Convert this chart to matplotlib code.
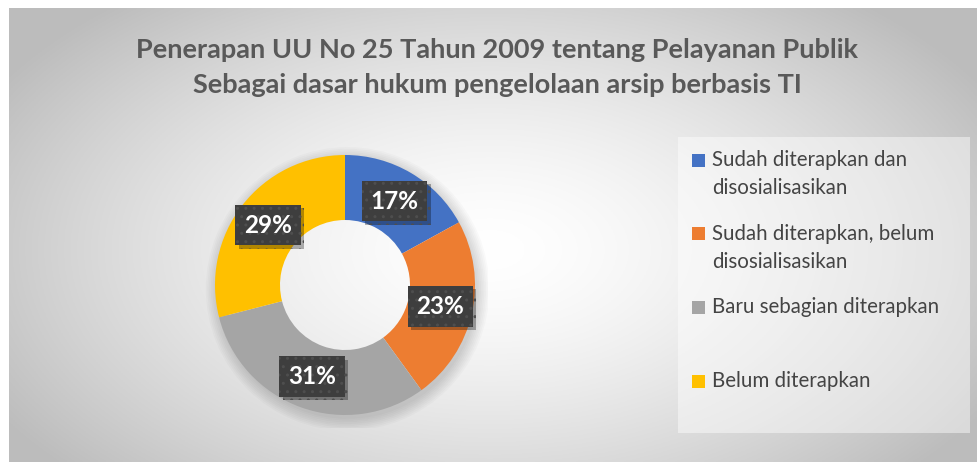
import numpy as np
import matplotlib.pyplot as plt
import matplotlib.patheffects as pe
from matplotlib.patches import Rectangle, Wedge

plt.rcParams['font.family'] = ['Lato', 'DejaVu Sans']

title_lines = [
    "Penerapan UU No 25 Tahun 2009 tentang Pelayanan Publik",
    "Sebagai dasar hukum pengelolaan arsip berbasis TI",
]
categories = [
    "Sudah diterapkan dan\ndisosialisasikan",
    "Sudah diterapkan, belum\ndisosialisasikan",
    "Baru sebagian diterapkan",
    "Belum diterapkan",
]
values = [17, 23, 31, 29]
colors = ["#4472C4", "#ED7D31", "#A5A5A5", "#FFC000"]

W, H = 977, 462
fig = plt.figure(figsize=(W / 100, H / 100), dpi=100)
fig.patch.set_facecolor("white")


def fx(px):
    return px / W


def fy(py):
    # pixel measured from top -> figure fraction
    return 1 - py / H


# chart panel with a soft radial gradient
left, top = 9, 8
bg = fig.add_axes([fx(left), 0, 1 - fx(left), 1 - top / H])
bg.set_axis_off()
gx = np.linspace(left, W, 500)
gy = np.linspace(top, H, 250)
X, Y = np.meshgrid(gx, gy)
d = np.sqrt(((X - 490) / 540) ** 2 + ((Y - 250) / 310) ** 2)
v = np.clip(1 - 0.24 * d ** 1.5, 0.74, 1)
bg.imshow(np.dstack([v, v, v]), extent=[0, 1, 0, 1], aspect="auto", origin="upper")
bg.set_xlim(0, 1)
bg.set_ylim(0, 1)

# title
fig.text(fx(497), fy(50), title_lines[0], ha="center", va="center",
         fontsize=19.5, fontweight="bold", color="#595959")
fig.text(fx(497), fy(85), title_lines[1], ha="center", va="center",
         fontsize=19.5, fontweight="bold", color="#595959")

# legend panel
fig.patches.append(Rectangle((fx(678), fy(433)), fx(970 - 678), (433 - 137) / H,
                             transform=fig.transFigure, facecolor="white",
                             alpha=0.45, edgecolor="none", zorder=1))
for i, (lab, col) in enumerate(zip(categories, colors)):
    y = 160 + 73.7 * i
    fig.patches.append(Rectangle((fx(692), fy(y + 6.5)), fx(13), 13 / H,
                                 transform=fig.transFigure, facecolor=col,
                                 edgecolor="none", zorder=2))
    for j, line in enumerate(lab.split("\n")):
        fig.text(fx(712), fy(y + 28 * j), line, ha="left", va="center",
                 fontsize=14.8, color="#444444", zorder=3)

# donut
cx, cy, R = 345, 285, 130
ax = fig.add_axes([fx(cx - R), (H - cy - R) / H, fx(2 * R), 2 * R / H])
ax.set_axis_off()

# soft shadow just outside the ring
for k in range(8):
    ax.add_patch(Wedge((0.02, -0.03), 1.0 + 0.013 * k, 0, 360,
                       width=0.06 + 0.013 * k, facecolor="black",
                       alpha=0.02, zorder=0, lw=0))

wedges, _, autotexts = ax.pie(
    values, colors=colors, startangle=90, counterclock=False,
    wedgeprops=dict(width=0.5, linewidth=0), radius=1.0,
    autopct="%1.0f%%", pctdistance=0.75,
    textprops=dict(color="white", fontsize=17.5, fontweight="bold"),
)
for t in autotexts:
    t.set_bbox(dict(boxstyle="square,pad=0.36", facecolor="#3e3e3e",
                    edgecolor="#4e4e4e", linewidth=0, hatch=".."))
    t.get_bbox_patch().set_path_effects([
        pe.SimplePatchShadow(offset=(2.5, -2.5), shadow_rgbFace="black", alpha=0.3),
        pe.Normal(),
    ])
ax.set_xlim(-1.1, 1.1)
ax.set_ylim(-1.1, 1.1)
ax.set_aspect("equal")
ax.set_position([fx(cx - R * 1.1), (H - cy - R * 1.1) / H, fx(2.2 * R), 2.2 * R / H])

fig.savefig("out.png", dpi=100, facecolor=fig.get_facecolor())
